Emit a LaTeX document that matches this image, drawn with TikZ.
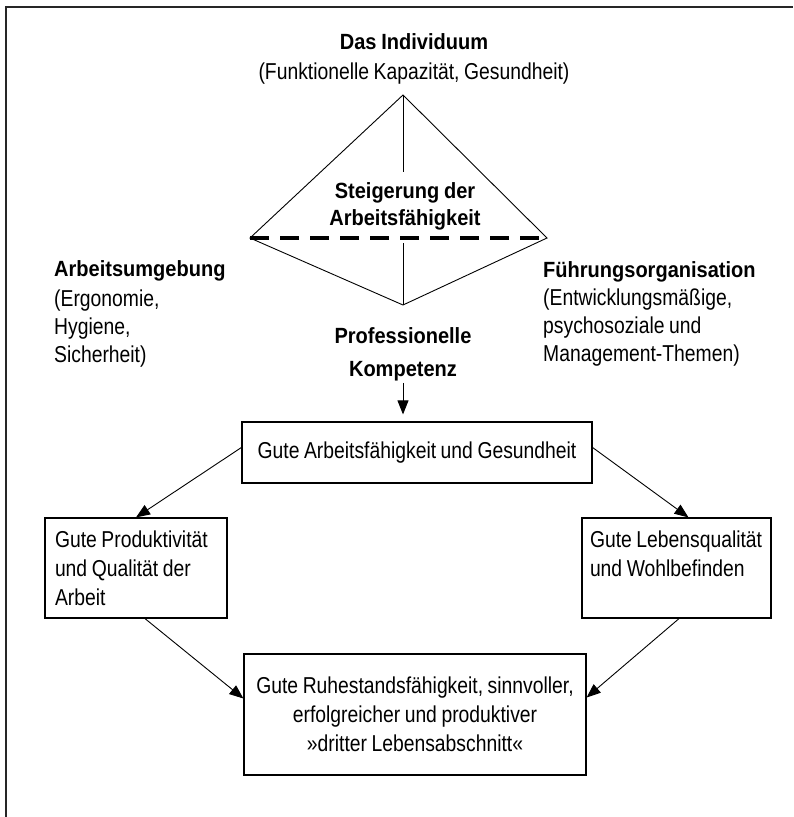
\documentclass[tikz,border=0pt]{standalone}
\usepackage{fontspec}
\setmainfont{Liberation Sans}
\newfontfamily\condreg{Liberation Sans}[FakeStretch=0.84, WordSpace=0.85]
\newfontfamily\condbold{Liberation Sans}[FakeStretch=0.91, WordSpace=0.85]
\usetikzlibrary{arrows.meta,calc}
% use the font's own interword space inside aligned nodes
\newcommand\fontspaces{\spaceskip=0pt\xspaceskip=0pt\relax}
\begin{document}
\begin{tikzpicture}[x=1pt,y=-1pt,
  reg/.style={font=\condreg\fontsize{23}{28}\selectfont, inner sep=0pt},
  bld/.style={font=\condbold\bfseries\fontsize{22}{28}\selectfont, inner sep=0pt},
  box/.style={draw, line width=1.2pt, inner ysep=0pt, font=\condreg\fontsize{23}{29}\selectfont},
  arr/.style={line width=0.9pt, -{Triangle[length=14pt,width=11pt]}},
  thin/.style={line width=0.9pt},
  frame/.style={line width=2pt, black!85}]
\useasboundingbox (0,0) rectangle (793,817);

% open frame: top and left edge only
\coordinate (fbl) at (6,817);
\coordinate (ftl) at (6,7);
\coordinate (ftr) at (793,7);
\draw[frame] (fbl) -- (ftl) -- (ftr);

% heading
\node[bld, anchor=base] (indiv) at (414,49) {Das Individuum};
\node[reg, anchor=base] (indivsub) at (414,79) {(Funktionelle Kapazität, Gesundheit)};

% the diamond
\coordinate (apex) at (403,95);
\coordinate (dl) at (250,238);
\coordinate (dr) at (547,238);
\coordinate (db) at (403,305);
\coordinate (vt) at (403,172);
\coordinate (vb) at (403,243);
\draw[thin, line join=miter] (apex) -- (dl) -- (db) -- (dr) -- cycle;
\draw[line width=3.2pt, dash pattern=on 19pt off 11pt] (dl) -- (dr);
\draw[thin] (apex) -- (vt);
\draw[thin] (vb) -- (db);
\node[bld, anchor=base] (steig1) at (405,198) {Steigerung der};
\node[bld, anchor=base] (steig2) at (405,225) {Arbeitsfähigkeit};

% left factor
\node[bld, anchor=base west] (umg) at (54,276) {Arbeitsumgebung};
\node[reg, anchor=base west] (umg1) at (54,306) {(Ergonomie,};
\node[reg, anchor=base west] (umg2) at (54,334) {Hygiene,};
\node[reg, anchor=base west] (umg3) at (54,362) {Sicherheit)};

% right factor
\node[bld, anchor=base west] (fuehr) at (543,277) {Führungsorganisation};
\node[reg, anchor=base west] (fuehr1) at (543,305) {(Entwicklungsmäßige,};
\node[reg, anchor=base west] (fuehr2) at (543,333) {psychosoziale und};
\node[reg, anchor=base west] (fuehr3) at (543,361) {Management-Themen)};

% bottom factor
\node[bld, anchor=base] (prof) at (403,343) {Professionelle};
\node[bld, anchor=base] (komp) at (403,376) {Kompetenz};

% outcome boxes
\node[box, minimum width=350pt, minimum height=61pt] (gut) at (417,452.5)
  {Gute Arbeitsfähigkeit und Gesundheit};
\node[box, inner xsep=10pt, text width=162pt, minimum height=100pt, align=left] (prod) at (136,568)
  {\fontspaces\mbox{Gute Produktivität}\\\mbox{und Qualität der}\\\mbox{Arbeit}};
\node[box, inner xsep=8pt, text width=173pt, minimum height=100pt, align=left] (leben) at (676.5,568)
  {\fontspaces\mbox{Gute Lebensqualität}\\\mbox{und Wohlbefinden}\\\mbox{}};
\node[box, minimum width=342pt, minimum height=121pt, align=center] (ruhe) at (415,714.5)
  {\fontspaces Gute Ruhestandsfähigkeit, sinnvoller,\\erfolgreicher und produktiver\\»dritter Lebensabschnitt«};

% connectors
\draw[arr, shorten <=2pt, shorten >=7pt] (komp.south) -- (komp.south |- gut.north);
\draw[arr] ([yshift=5pt]gut.west) -- (prod.north);
\draw[arr] ([yshift=5pt]gut.east) -- ([xshift=12pt]leben.north);
\draw[arr] ([xshift=9pt]prod.south) -- ([yshift=16pt]ruhe.west);
\draw[arr] ([xshift=2.5pt]leben.south) -- ([yshift=17pt]ruhe.east);
\end{tikzpicture}
\end{document}
